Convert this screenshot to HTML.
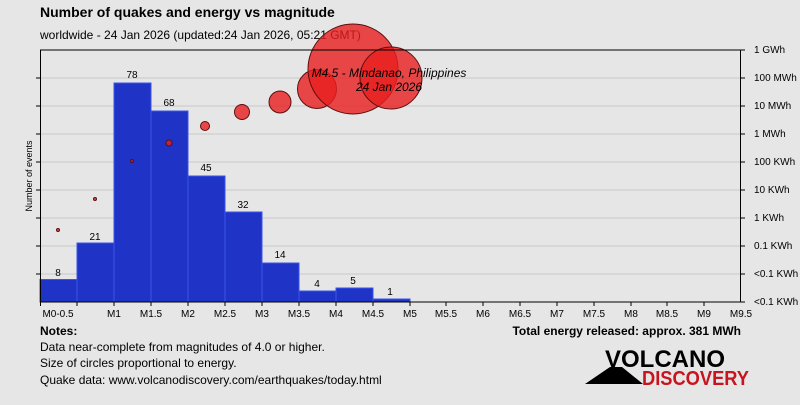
<!DOCTYPE html>
<html><head><meta charset="utf-8"><style>
body{margin:0;width:800px;height:400px;background:#e6e6e6;font-family:"Liberation Sans",sans-serif;overflow:hidden}
</style></head><body>
<svg width="800" height="400" xmlns="http://www.w3.org/2000/svg" font-family="Liberation Sans, sans-serif">
<rect width="800" height="400" fill="#e6e6e6"/>
<text x="40" y="17" font-size="14" font-weight="bold" fill="#000">Number of quakes and energy vs magnitude</text>
<text x="40" y="39" font-size="12" fill="#000">worldwide - 24 Jan 2026 (updated:24 Jan 2026, 05:21 GMT)</text>
<g stroke="#c8c8c8" stroke-width="1">
<line x1="40" y1="78" x2="741" y2="78"/><line x1="40" y1="106" x2="741" y2="106"/>
<line x1="40" y1="134" x2="741" y2="134"/><line x1="40" y1="162" x2="741" y2="162"/>
<line x1="40" y1="190" x2="741" y2="190"/><line x1="40" y1="218" x2="741" y2="218"/>
<line x1="40" y1="246" x2="741" y2="246"/><line x1="40" y1="274" x2="741" y2="274"/>
</g>
<g fill="#1f33c6" stroke="#3a55e8" stroke-width="1">
<rect x="40" y="279.5" width="37" height="22.5"/>
<rect x="77" y="243" width="37" height="59"/>
<rect x="114" y="83" width="37" height="219"/>
<rect x="151" y="111" width="37" height="191"/>
<rect x="188" y="176" width="37" height="126"/>
<rect x="225" y="212" width="37" height="90"/>
<rect x="262" y="263" width="37" height="39"/>
<rect x="299" y="291" width="37" height="11"/>
<rect x="336" y="288" width="37" height="14"/>
<rect x="373" y="299" width="37" height="3"/>
</g>
<g font-size="10" fill="#000" text-anchor="middle">
<text x="58" y="276">8</text><text x="95" y="240">21</text><text x="132" y="78">78</text>
<text x="169" y="106">68</text><text x="206" y="171">45</text><text x="243" y="208">32</text>
<text x="280" y="258">14</text><text x="317" y="287">4</text><text x="353" y="284">5</text><text x="390" y="295">1</text>
</g>
<g fill="rgba(232,30,30,0.8)" stroke="#5a1010" stroke-width="1">
<circle cx="58" cy="230" r="1.5"/><circle cx="95" cy="199" r="1.5"/><circle cx="132" cy="161" r="1.5"/>
<circle cx="169" cy="143" r="3"/><circle cx="205" cy="126" r="4.5"/><circle cx="242" cy="112" r="7.5"/>
<circle cx="280" cy="102" r="11"/><circle cx="317" cy="89" r="19.5"/>
<circle cx="353" cy="69" r="45"/><circle cx="391" cy="78" r="31"/>
</g>
<text x="389" y="77" font-size="12" font-style="italic" text-anchor="middle" fill="#000">M4.5 - Mindanao, Philippines</text>
<text x="389" y="91" font-size="12" font-style="italic" text-anchor="middle" fill="#000">24 Jan 2026</text>
<g stroke="#000" stroke-width="1">
<line x1="40" y1="50" x2="741" y2="50"/><line x1="40.5" y1="50" x2="40.5" y2="302"/>
<line x1="740.5" y1="50" x2="740.5" y2="302"/><line x1="40" y1="302" x2="741" y2="302"/>
<line x1="36" y1="78" x2="40" y2="78"/><line x1="36" y1="106" x2="40" y2="106"/><line x1="36" y1="134" x2="40" y2="134"/>
<line x1="36" y1="162" x2="40" y2="162"/><line x1="36" y1="190" x2="40" y2="190"/><line x1="36" y1="218" x2="40" y2="218"/>
<line x1="36" y1="246" x2="40" y2="246"/><line x1="36" y1="274" x2="40" y2="274"/>
</g>
<g stroke="#000">
<line x1="741" y1="50" x2="745" y2="50"/><line x1="741" y1="78" x2="745" y2="78"/><line x1="741" y1="106" x2="745" y2="106"/>
<line x1="741" y1="134" x2="745" y2="134"/><line x1="741" y1="162" x2="745" y2="162"/><line x1="741" y1="190" x2="745" y2="190"/>
<line x1="741" y1="218" x2="745" y2="218"/><line x1="741" y1="246" x2="745" y2="246"/><line x1="741" y1="274" x2="745" y2="274"/>
<line x1="741" y1="302" x2="745" y2="302"/>
<line x1="40.5" y1="302" x2="40.5" y2="306"/><line x1="77" y1="302" x2="77" y2="306"/><line x1="114" y1="302" x2="114" y2="306"/>
<line x1="151" y1="302" x2="151" y2="306"/><line x1="188" y1="302" x2="188" y2="306"/><line x1="225" y1="302" x2="225" y2="306"/>
<line x1="262" y1="302" x2="262" y2="306"/><line x1="299" y1="302" x2="299" y2="306"/><line x1="336" y1="302" x2="336" y2="306"/>
<line x1="373" y1="302" x2="373" y2="306"/><line x1="410" y1="302" x2="410" y2="306"/><line x1="446" y1="302" x2="446" y2="306"/>
<line x1="483" y1="302" x2="483" y2="306"/><line x1="520" y1="302" x2="520" y2="306"/><line x1="557" y1="302" x2="557" y2="306"/>
<line x1="594" y1="302" x2="594" y2="306"/><line x1="631" y1="302" x2="631" y2="306"/><line x1="667" y1="302" x2="667" y2="306"/>
<line x1="704" y1="302" x2="704" y2="306"/>
</g>
<g font-size="10" fill="#000">
<text x="754" y="53">1 GWh</text><text x="754" y="81">100 MWh</text><text x="754" y="109">10 MWh</text>
<text x="754" y="137">1 MWh</text><text x="754" y="165">100 KWh</text><text x="754" y="193">10 KWh</text>
<text x="754" y="221">1 KWh</text><text x="754" y="249">0.1 KWh</text><text x="754" y="277">&lt;0.1 KWh</text>
<text x="754" y="305">&lt;0.1 KWh</text>
</g>
<g font-size="10" fill="#000" text-anchor="middle">
<text x="58" y="317">M0-0.5</text><text x="114" y="317">M1</text><text x="151" y="317">M1.5</text>
<text x="188" y="317">M2</text><text x="225" y="317">M2.5</text><text x="262" y="317">M3</text>
<text x="299" y="317">M3.5</text><text x="336" y="317">M4</text><text x="373" y="317">M4.5</text>
<text x="410" y="317">M5</text><text x="446" y="317">M5.5</text><text x="483" y="317">M6</text>
<text x="520" y="317">M6.5</text><text x="557" y="317">M7</text><text x="594" y="317">M7.5</text>
<text x="631" y="317">M8</text><text x="667" y="317">M8.5</text><text x="704" y="317">M9</text>
<text x="741" y="317">M9.5</text>
</g>
<text transform="translate(32,176) rotate(-90)" font-size="9" text-anchor="middle" fill="#000">Number of events</text>
<text x="40" y="335" font-size="12" font-weight="bold" fill="#000">Notes:</text>
<text x="741" y="335" font-size="12" font-weight="bold" text-anchor="end" fill="#000">Total energy released: approx. 381 MWh</text>
<text x="40" y="351" font-size="12" fill="#000">Data near-complete from magnitudes of 4.0 or higher.</text>
<text x="40" y="367" font-size="12" fill="#000">Size of circles proportional to energy.</text>
<text x="40" y="384" font-size="12" fill="#000">Quake data: www.volcanodiscovery.com/earthquakes/today.html</text>
<polygon points="585,384 610,367 622,367 643,384" fill="#000"/>
<text x="605" y="367" font-size="24" font-weight="bold" fill="#000" textLength="120" lengthAdjust="spacingAndGlyphs">VOLCANO</text>
<text x="642" y="385" font-size="20" font-weight="bold" fill="#c8141e" textLength="107" lengthAdjust="spacingAndGlyphs">DISCOVERY</text>
</svg>
</body></html>
